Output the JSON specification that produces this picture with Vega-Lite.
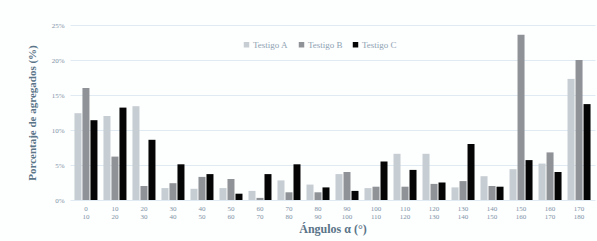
{
  "$schema": "https://vega.github.io/schema/vega-lite/v6.json",
  "width": 525,
  "height": 175,
  "autosize": {"type": "none"},
  "padding": {"left": 70, "top": 25, "right": 2, "bottom": 41},
  "background": "#fdfefe",
  "config": {
    "font": "Liberation Serif",
    "view": {"stroke": null},
    "axis": {"labelFont": "Liberation Serif", "titleFont": "Liberation Serif"},
    "legend": {"labelFont": "Liberation Serif"}
  },
  "data": {
    "values": [
      {"ang": "0-10", "serie": "Testigo A", "v": 12.4},
      {"ang": "0-10", "serie": "Testigo B", "v": 16.0},
      {"ang": "0-10", "serie": "Testigo C", "v": 11.4},
      {"ang": "10-20", "serie": "Testigo A", "v": 12.0},
      {"ang": "10-20", "serie": "Testigo B", "v": 6.2},
      {"ang": "10-20", "serie": "Testigo C", "v": 13.2},
      {"ang": "20-30", "serie": "Testigo A", "v": 13.4},
      {"ang": "20-30", "serie": "Testigo B", "v": 2.0},
      {"ang": "20-30", "serie": "Testigo C", "v": 8.6},
      {"ang": "30-40", "serie": "Testigo A", "v": 1.7},
      {"ang": "30-40", "serie": "Testigo B", "v": 2.4},
      {"ang": "30-40", "serie": "Testigo C", "v": 5.1},
      {"ang": "40-50", "serie": "Testigo A", "v": 1.6},
      {"ang": "40-50", "serie": "Testigo B", "v": 3.3},
      {"ang": "40-50", "serie": "Testigo C", "v": 3.7},
      {"ang": "50-60", "serie": "Testigo A", "v": 1.7},
      {"ang": "50-60", "serie": "Testigo B", "v": 3.0},
      {"ang": "50-60", "serie": "Testigo C", "v": 0.9},
      {"ang": "60-70", "serie": "Testigo A", "v": 1.3},
      {"ang": "60-70", "serie": "Testigo B", "v": 0.3},
      {"ang": "60-70", "serie": "Testigo C", "v": 3.7},
      {"ang": "70-80", "serie": "Testigo A", "v": 2.8},
      {"ang": "70-80", "serie": "Testigo B", "v": 1.1},
      {"ang": "70-80", "serie": "Testigo C", "v": 5.1},
      {"ang": "80-90", "serie": "Testigo A", "v": 2.2},
      {"ang": "80-90", "serie": "Testigo B", "v": 1.1},
      {"ang": "80-90", "serie": "Testigo C", "v": 1.8},
      {"ang": "90-100", "serie": "Testigo A", "v": 3.7},
      {"ang": "90-100", "serie": "Testigo B", "v": 4.0},
      {"ang": "90-100", "serie": "Testigo C", "v": 1.3},
      {"ang": "100-110", "serie": "Testigo A", "v": 1.7},
      {"ang": "100-110", "serie": "Testigo B", "v": 1.9},
      {"ang": "100-110", "serie": "Testigo C", "v": 5.5},
      {"ang": "110-120", "serie": "Testigo A", "v": 6.6},
      {"ang": "110-120", "serie": "Testigo B", "v": 1.9},
      {"ang": "110-120", "serie": "Testigo C", "v": 4.3},
      {"ang": "120-130", "serie": "Testigo A", "v": 6.6},
      {"ang": "120-130", "serie": "Testigo B", "v": 2.3},
      {"ang": "120-130", "serie": "Testigo C", "v": 2.5},
      {"ang": "130-140", "serie": "Testigo A", "v": 1.8},
      {"ang": "130-140", "serie": "Testigo B", "v": 2.7},
      {"ang": "130-140", "serie": "Testigo C", "v": 8.0},
      {"ang": "140-150", "serie": "Testigo A", "v": 3.4},
      {"ang": "140-150", "serie": "Testigo B", "v": 2.0},
      {"ang": "140-150", "serie": "Testigo C", "v": 1.9},
      {"ang": "150-160", "serie": "Testigo A", "v": 4.4},
      {"ang": "150-160", "serie": "Testigo B", "v": 23.6},
      {"ang": "150-160", "serie": "Testigo C", "v": 5.7},
      {"ang": "160-170", "serie": "Testigo A", "v": 5.2},
      {"ang": "160-170", "serie": "Testigo B", "v": 6.8},
      {"ang": "160-170", "serie": "Testigo C", "v": 4.0},
      {"ang": "170-180", "serie": "Testigo A", "v": 17.3},
      {"ang": "170-180", "serie": "Testigo B", "v": 20.0},
      {"ang": "170-180", "serie": "Testigo C", "v": 13.7}
    ]
  },
  "mark": {"type": "bar", "width": 7},
  "encoding": {
    "x": {
      "field": "ang",
      "type": "nominal",
      "sort": null,
      "scale": {"paddingInner": 0.2, "paddingOuter": 0.15},
      "axis": {
        "title": "Ángulos α (°)",
        "titleFont": "Liberation Serif",
        "titleFontSize": 12,
        "titleFontWeight": "bold",
        "titleColor": "#5a7488",
        "titlePadding": 4,
        "labelAngle": 0,
        "labelExpr": "split(datum.value, '-')",
        "labelFont": "Liberation Serif",
        "labelFontSize": 7,
        "labelColor": "#7d93a6",
        "labelLineHeight": 8,
        "labelPadding": 4,
        "domain": false,
        "ticks": false
      }
    },
    "xOffset": {"field": "serie", "type": "nominal", "scale": {"paddingInner": 0.1}},
    "y": {
      "field": "v",
      "type": "quantitative",
      "scale": {"domain": [0, 25]},
      "axis": {
        "title": "Porcentaje de agregados (%)",
        "titleFont": "Liberation Serif",
        "titleFontSize": 11,
        "titleFontWeight": "bold",
        "titleColor": "#5a7488",
        "titlePadding": 14,
        "values": [0, 5, 10, 15, 20, 25],
        "labelExpr": "datum.value + '%'",
        "labelFont": "Liberation Serif",
        "labelFontSize": 7,
        "labelColor": "#7d93a6",
        "labelPadding": 6,
        "domain": false,
        "ticks": false,
        "gridColor": "#dfeaf2",
        "gridWidth": 1
      }
    },
    "color": {
      "field": "serie",
      "type": "nominal",
      "scale": {"domain": ["Testigo A", "Testigo B", "Testigo C"], "range": ["#c6cdd3", "#8f9296", "#050505"]},
      "legend": {
        "title": null,
        "orient": "none",
        "direction": "horizontal",
        "legendX": 172,
        "legendY": 15,
        "symbolType": "square",
        "symbolSize": 30,
        "symbolStrokeWidth": 0,
        "labelFont": "Liberation Serif",
        "labelFontSize": 9,
        "labelColor": "#8ea3b3",
        "columnPadding": 8,
        "labelOffset": 2
      }
    }
  }
}
